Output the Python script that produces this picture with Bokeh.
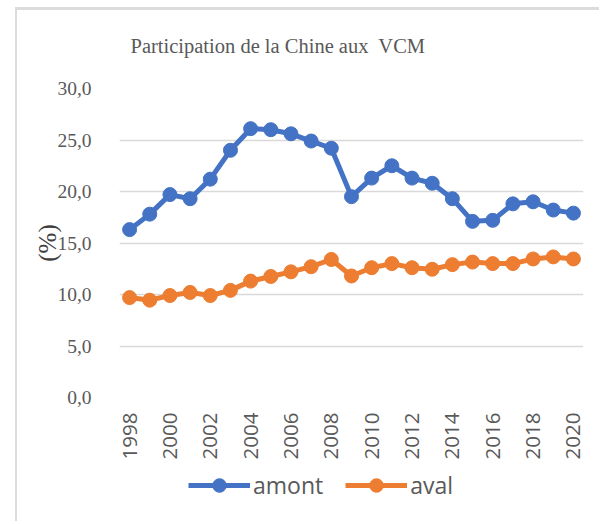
import math
from bokeh.plotting import figure
from bokeh.layouts import column
from bokeh.models import Range1d, FixedTicker, Legend, LegendItem, Title
from bokeh.embed import file_html
from bokeh.resources import INLINE

years = list(range(1998, 2021))
amont = [16.3, 17.8, 19.7, 19.3, 21.2, 24.0, 26.1, 26.0, 25.6, 24.9, 24.2, 19.5,
         21.3, 22.5, 21.3, 20.8, 19.3, 17.1, 17.2, 18.8, 19.0, 18.2, 17.9]
aval = [9.7, 9.45, 9.9, 10.2, 9.9, 10.4, 11.3, 11.75, 12.2, 12.7, 13.4, 11.8,
        12.6, 13.0, 12.6, 12.45, 12.9, 13.15, 13.0, 13.0, 13.45, 13.65, 13.45]
y_ticks = [0, 5, 10, 15, 20, 25, 30]
y_tick_labels = ["0,0", "5,0", "10,0", "15,0", "20,0", "25,0", "30,0"]
x_ticks = list(range(1998, 2021, 2))
x_tick_labels = [str(y) for y in x_ticks]
series_names = ["amont", "aval"]
series_colors = ["#4472C4", "#ED7D31"]
series_values = [amont, aval]

# main chart, placed at page (17, 10) by its margin + border styles
p = figure(width=584, height=452, output_backend="svg", toolbar_location=None,
           x_range=Range1d(1997.5, 2020.5), y_range=Range1d(0, 30),
           min_border_left=102, min_border_right=18, min_border_top=78,
           min_border_bottom=62)
p.styles = {"margin-left": "15px", "margin-top": "7px",
            "border-left": "2px solid #dcdcdc", "border-top": "3px solid #dcdcdc"}
p.outline_line_color = None
p.background_fill_color = "white"
p.border_fill_color = "white"

p.title.text = "Participation de la Chine aux\u00a0 VCM"
p.title.text_font = "Liberation Serif"
p.title.text_font_size = "20.5px"
p.title.text_font_style = "normal"
p.title.text_color = "#595959"
p.title.align = "left"
p.title.offset = 11
p.add_layout(Title(text="\u00a0", text_font_size="13px"), "above")

p.xgrid.grid_line_color = None
p.ygrid.grid_line_color = "#d9d9d9"
p.ygrid.grid_line_width = 1.5

ya = p.yaxis[0]
ya.ticker = FixedTicker(ticks=y_ticks)
ya.major_label_overrides = dict(zip(y_ticks, y_tick_labels))
ya.axis_line_color = None
ya.major_tick_line_color = None
ya.minor_tick_line_color = None
ya.major_label_standoff = 22
ya.major_label_text_font = "Liberation Serif"
ya.major_label_text_font_size = "19.5px"
ya.major_label_text_color = "#595959"
ya.axis_label = "(%)"
ya.axis_label_text_font = "Liberation Serif"
ya.axis_label_text_font_size = "25px"
ya.axis_label_text_font_style = "normal"
ya.axis_label_text_color = "#404040"
ya.axis_label_standoff = -7

xa = p.xaxis[0]
xa.ticker = FixedTicker(ticks=x_ticks)
xa.major_label_overrides = dict(zip(x_ticks, x_tick_labels))
xa.major_label_orientation = math.pi / 2
xa.axis_line_color = None
xa.major_tick_line_color = None
xa.minor_tick_line_color = None
xa.major_label_standoff = 9
xa.major_label_text_font = "Open Sans"
xa.major_label_text_font_size = "20.5px"
xa.major_label_text_color = "#595959"

for vals, col in zip(series_values, series_colors):
    p.line(years, vals, line_color=col, line_width=5)
    p.scatter(years, vals, size=14, fill_color=col, line_color=col)

# legend strip below the chart (its frame is aligned with the chart's frame)
leg = figure(width=584, height=62, output_backend="svg", toolbar_location=None,
             x_range=Range1d(0, 1), y_range=Range1d(0, 1),
             min_border_left=0, min_border_right=0, min_border_top=0,
             min_border_bottom=0)
leg.styles = {"margin-left": "15px", "border-left": "2px solid #dcdcdc"}
leg.axis.visible = False
leg.grid.visible = False
leg.outline_line_color = None
items = []
for name, vals, col in zip(series_names, series_values, series_colors):
    # same series, out of this strip's ranges: only their legend glyphs show
    lr = leg.line(years, vals, line_color=col, line_width=5)
    sr = leg.scatter(years, vals, size=14, fill_color=col, line_color=col)
    items.append(LegendItem(label=name, renderers=[lr, sr]))
legend = Legend(items=items, orientation="horizontal", location=(69, 19))
legend.border_line_color = None
legend.background_fill_alpha = 0
legend.label_text_font = "Open Sans"
legend.label_text_font_size = "23px"
legend.label_text_color = "#595959"
legend.glyph_width = 62
legend.glyph_height = 34
legend.label_standoff = 3
legend.spacing = 22
legend.padding = 0
legend.margin = 0
leg.add_layout(legend, "center")

layout = column(p, leg, spacing=0)
open("out.html", "w").write(file_html(layout, INLINE))
